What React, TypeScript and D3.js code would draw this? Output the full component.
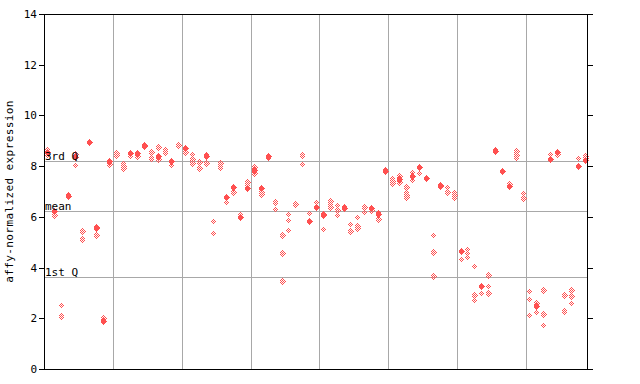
import React from "react";
import * as d3 from "d3";

// per-sample solid (filled) marker value, null when none
const filledValues: (number | null)[] = [
  8.55, 6.23, null, 6.82, 8.37, null, 8.95, 5.55, 1.89, 8.19,
  null, null, 8.5, 8.5, 8.8, null, 8.4, null, 8.21, null,
  8.7, null, null, 8.4, null, null, 6.79, 7.19, 5.98, 7.15,
  7.85, 7.12, 8.41, null, null, null, null, null, 5.85, 6.4,
  6.08, null, null, 6.36, null, null, null, 6.35, 6.1, 7.82,
  null, 7.49, null, 7.6, 7.95, 7.54, null, 7.2, null, null,
  4.66, null, null, 3.29, null, 8.6, 7.81, 7.22, null, null,
  null, 2.48, null, 8.28, 8.56, null, null, 8.02, 8.25,
];

// per-sample dithered (hollow) marker values
const hollowValues: number[][] = [
  [8.67, 8.44], [6.07], [2.51, 2.12, 2.05], [6.9], [8.48, 8.03], [5.44, 5.18, 5.1], [9.0], [5.6, 5.27], [2.02], [8.07],
  [8.5, 8.45], [8.13, 8.02, 7.91], [8.4], [8.4], [8.85], [8.54, 8.35, 8.27], [8.75, 8.28], [8.69, 8.6, 8.53], [8.04], [8.82],
  [8.57], [8.46, 8.3, 8.13], [8.15, 7.93], [8.46, 8.11], [5.82, 5.35], [8.11, 8.0, 7.91], [6.6], [7.0], [6.11], [7.36, 7.25],
  [7.98, 7.74], [7.0, 6.89], [8.31], [6.62, 6.55, 6.32], [5.27, 4.56, 3.46], [6.1, 5.88, 5.48], [6.55, 6.5], [8.48, 8.4, 8.07], [6.14], [6.58],
  [6.13, 5.51], [6.62, 6.5, 6.37], [6.45, 6.27, 6.06], [6.42], [5.7, 5.5, 5.43], [5.98, 5.63, 5.58], [6.37, 6.18], [6.28], [6.19, 5.92], [7.9],
  [7.52, 7.43, 7.32], [7.62, 7.36], [7.16, 6.97, 6.88, 6.79], [7.76, 7.45], [7.72], [], [5.27, 4.6, 3.65], [7.26], [7.19, 7.0], [6.98, 6.85, 6.73],
  [4.32], [4.74, 4.58, 4.43], [4.05, 2.9, 2.71], [2.98], [3.69, 3.27, 2.98], [8.68], [7.78], [7.3], [8.58, 8.45, 8.33], [6.94, 6.76],
  [3.06, 2.75, 2.12], [2.6, 2.24], [3.1, 2.16, 1.72], [8.46], [8.46], [2.9, 2.31, 2.25], [3.1, 2.87, 2.59], [8.31], [8.39, 8.31],
];

const yTicks = [0, 2, 4, 6, 8, 10, 12, 14];
const refLines = [
  { label: "3rd Q", value: 8.22 },
  { label: "mean", value: 6.22 },
  { label: "1st Q", value: 3.62 },
];
const groupBoundaries = [10, 20, 30, 40, 50, 60, 70];

const W = 640;
const H = 384;
const left = 44;
const right = 588;
const top = 14;
const bottom = 369;
const RED = "#ff5050";
const FONT = "'DejaVu Sans Mono', monospace";

export default function App() {
  const n = filledValues.length;
  const x = d3
    .scaleBand<number>()
    .domain(d3.range(n))
    .range([left, right]);
  const y = d3.scaleLinear().domain([0, 14]).range([bottom, top]);
  const cx = (i: number) => Math.round((x(i) as number) + x.bandwidth() / 2) + 0.5;
  const cy = (v: number) => Math.round(y(v)) + 0.5;
  const diamond = (px: number, py: number, hw: number, hh: number) =>
    `${px},${py - hh} ${px + hw},${py} ${px},${py + hh} ${px - hw},${py}`;

  return (
    <svg
      width={W}
      height={H}
      style={{ position: "absolute", left: 0, top: 0, background: "#fff" }}
    >
      <defs>
        <pattern id="dith" width={2} height={2} patternUnits="userSpaceOnUse">
          <rect x={0} y={0} width={1} height={1} fill={RED} />
          <rect x={1} y={1} width={1} height={1} fill={RED} />
        </pattern>
      </defs>

      {/* vertical group separators */}
      {groupBoundaries.map((b) => {
        const gx = Math.round(x(b) as number) + 0.5;
        return (
          <line key={"v" + b} x1={gx} x2={gx} y1={top} y2={bottom} stroke="#a8a8a8" strokeWidth={1} />
        );
      })}

      {/* reference lines */}
      {refLines.map((r) => (
        <line
          key={r.label}
          x1={left}
          x2={right}
          y1={Math.round(y(r.value)) + 0.5}
          y2={Math.round(y(r.value)) + 0.5}
          stroke="#a8a8a8"
          strokeWidth={1}
        />
      ))}

      {/* points */}
      {hollowValues.map((vals, i) =>
        vals.map((v, j) => (
          <polygon
            key={"h" + i + "-" + j}
            points={diamond(cx(i), cy(v), 3, 4)}
            fill="url(#dith)"
            shapeRendering="crispEdges"
          />
        ))
      )}
      {filledValues.map((v, i) =>
        v === null ? null : (
          <polygon
            key={"f" + i}
            points={diamond(cx(i), cy(v), 3, 4)}
            fill={RED}
            shapeRendering="crispEdges"
          />
        )
      )}

      {/* reference labels */}
      {refLines.map((r) => (
        <text
          key={"t" + r.label}
          x={left + 1}
          y={Math.round(y(r.value)) - 1}
          fontFamily={FONT}
          fontSize={11}
          fill="#000"
        >
          {r.label}
        </text>
      ))}

      {/* frame */}
      <rect
        x={left + 0.5}
        y={top + 0.5}
        width={right - left - 1}
        height={bottom - top}
        fill="none"
        stroke="#000"
        strokeWidth={1}
      />

      {/* ticks */}
      {yTicks.map((t) => {
        const ty = Math.round(y(t)) + 0.5;
        return (
          <g key={"y" + t}>
            <line x1={left - 5} x2={left} y1={ty} y2={ty} stroke="#000" />
            <line x1={right} x2={right + 5} y1={ty} y2={ty} stroke="#000" />
            <text
              x={37}
              y={ty}
              dy="0.35em"
              textAnchor="end"
              fontFamily={FONT}
              fontSize={11}
              fill="#000"
            >
              {t}
            </text>
          </g>
        );
      })}

      <text
        transform={`translate(13, ${(top + bottom) / 2}) rotate(-90)`}
        textAnchor="middle"
        fontFamily={FONT}
        fontSize={11}
        letterSpacing={0.4}
        fill="#000"
      >
        affy-normalized expression
      </text>
    </svg>
  );
}
